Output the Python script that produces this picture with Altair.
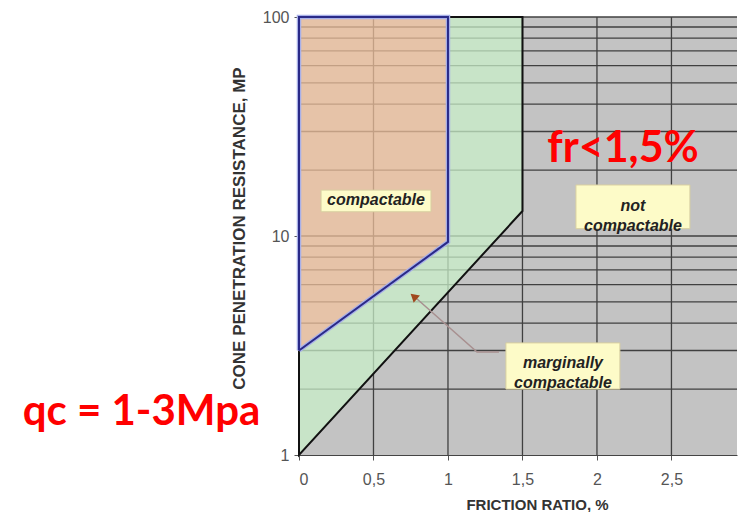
import altair as alt
import pandas as pd

# ---- data ----
x_ticks = [0, 0.5, 1, 1.5, 2, 2.5]
y_labels = [1, 10, 100]
x_grid = [0.5, 1, 1.5, 2, 2.5]
y_grid = [2, 3, 4, 5, 6, 7, 8, 9, 10, 20, 30, 40, 50, 60, 70, 80, 90, 100]

# compactable (orange) region bounded by the blue line
orange_x = [0, 1]
orange_y = [3.0, 9.4]
orange_y2 = [100, 100]

# marginally compactable (green) region between black and blue lines
green1_x = [0, 1]
green1_y = [1, 5.5]
green1_y2 = [3.0, 9.4]
green2_x = [1, 1.5]
green2_y = [5.5, 13]
green2_y2 = [100, 100]

blue_x = [0, 1, 1, 0, 0]
blue_y = [3.0, 9.4, 100, 100, 3.0]
black_x = [0, 0, 1.5, 1.5, 0]
black_y = [3.0, 1, 13, 100, 100]

# annotation boxes
box_x1 = [0.148, 1.859, 1.389]
box_x2 = [0.886, 2.624, 2.154]
box_y1 = [12.9, 10.8, 2.0]
box_y2 = [16.2, 17.1, 3.25]
ann_x = [0.517, 2.242, 1.772]
ann_y = [14.6, 13.7, 2.63]
ann_text = ["compactable", "not\ncompactable", "marginally\ncompactable"]

arrow_x = [1.342, 1.195, 0.785]
arrow_y = [2.95, 2.95, 5.21]
head_x = [0.77]
head_y = [5.3]

red_text = ["fr<1,5%", "qc = 1-3Mpa"]
red_x = [2.175, -1.057]
red_y = [21.8, 1.37]
red_size = [43, 42]

# ---- scales / axes ----
XS = alt.Scale(domain=[0, 2.94], nice=False, zero=False)
YS = alt.Scale(type="log", domain=[1, 100], nice=False)

x_axis = alt.Axis(
    values=x_ticks, labelExpr="replace(format(datum.value, '~g'), '.', ',')",
    title="FRICTION RATIO, %", grid=False, tickSize=5, labelPadding=11,
    labelFont="Liberation Sans", labelFontSize=16, labelColor="#555",
    domainColor="#444", tickColor="#555",
    titleFont="Liberation Sans", titleFontSize=15,
    titleFontWeight="bold", titleColor="#333", titleX=238, titleY=54,
    titleBaseline="alphabetic", titleAlign="center",
)
y_axis = alt.Axis(
    values=y_labels, labelExpr="format(datum.value, '~g')",
    title="CONE PENETRATION RESISTANCE, MP",
    grid=False, domain=False, tickSize=5, labelPadding=5,
    labelFont="Liberation Sans", labelFontSize=16, labelColor="#555",
    tickColor="#555",
    titleFont="Liberation Sans", titleFontSize=17, titleFontWeight="bold",
    titleColor="#333", titleX=-60, titleY=211, titleAngle=270,
    titleBaseline="middle", titleAlign="center",
)


def X(f):
    return alt.X(f, type="quantitative", scale=XS, axis=x_axis)


def Y(f):
    return alt.Y(f, type="quantitative", scale=YS, axis=y_axis)


# ---- layers ----
vgrid = alt.Chart(pd.DataFrame({"x": x_grid})).mark_rule(
    color="#404040", strokeWidth=1.3).encode(x=X("x"))
hgrid = alt.Chart(pd.DataFrame({"y": y_grid})).mark_rule(
    color="#404040", strokeWidth=1.3).encode(y=Y("y"))

green1 = alt.Chart(pd.DataFrame({"x": green1_x, "y": green1_y, "y2": green1_y2})).mark_area(
    color="#caf1ca", opacity=0.72).encode(x=X("x"), y=Y("y"), y2="y2")
green2 = alt.Chart(pd.DataFrame({"x": green2_x, "y": green2_y, "y2": green2_y2})).mark_area(
    color="#caf1ca", opacity=0.72).encode(x=X("x"), y=Y("y"), y2="y2")

orange = alt.Chart(pd.DataFrame({"x": orange_x, "y": orange_y, "y2": orange_y2})).mark_area(
    color="#f4c49e", opacity=0.72).encode(x=X("x"), y=Y("y"), y2="y2")

black = alt.Chart(pd.DataFrame({"x": black_x, "y": black_y, "i": range(len(black_x))})).mark_line(
    color="#111111", strokeWidth=2).encode(x=X("x"), y=Y("y"), order="i:Q")

blue_df = pd.DataFrame({"x": blue_x, "y": blue_y, "i": range(len(blue_x))})
blue_halo = alt.Chart(blue_df).mark_line(color="#a8b0e8", strokeWidth=4.5).encode(
    x=X("x"), y=Y("y"), order="i:Q")
blue = alt.Chart(blue_df).mark_line(color="#2a2a88", strokeWidth=2).encode(
    x=X("x"), y=Y("y"), order="i:Q")

arrow = alt.Chart(pd.DataFrame({"x": arrow_x, "y": arrow_y, "i": range(3)})).mark_line(
    color="#a89090", strokeWidth=1.5).encode(x=X("x"), y=Y("y"), order="i:Q")
head = alt.Chart(pd.DataFrame({"x": head_x, "y": head_y})).mark_point(
    shape="triangle-up", filled=True, color="#a0481e", size=90, angle=311, opacity=1).encode(
    x=X("x"), y=Y("y"))

boxes = alt.Chart(pd.DataFrame({"x": box_x1, "x2": box_x2, "y": box_y1, "y2": box_y2})).mark_rect(
    fill="#fdfbc8", stroke="#d8cfa0", strokeWidth=1).encode(
    x=X("x"), x2="x2", y=Y("y"), y2="y2")

ann = alt.Chart(pd.DataFrame({"x": ann_x, "y": ann_y, "t": ann_text})).mark_text(
    font="Liberation Sans", fontSize=16, fontStyle="italic", fontWeight="bold",
    color="#222", lineBreak="\n", lineHeight=20, baseline="middle", align="center").encode(
    x=X("x"), y=Y("y"), text="t:N")

red = alt.Chart(pd.DataFrame({"x": red_x, "y": red_y, "t": red_text, "s": red_size})).mark_text(
    font="Lato", fontWeight="bold", color="#ff0000", baseline="alphabetic", align="center").encode(
    x=X("x"), y=Y("y"), text="t:N",
    size=alt.Size("s:Q", scale=None, legend=None))

chart = alt.layer(
    vgrid, hgrid, green1, green2, orange, black, blue_halo, blue, arrow, head, boxes, ann, red
).properties(
    width=438, height=438,
    padding={"left": 14, "top": 0, "right": 0, "bottom": 0},
).configure_view(strokeWidth=0, fill="#c3c3c3")

chart.save("out.html", embed_options={"renderer": "svg", "actions": False})
